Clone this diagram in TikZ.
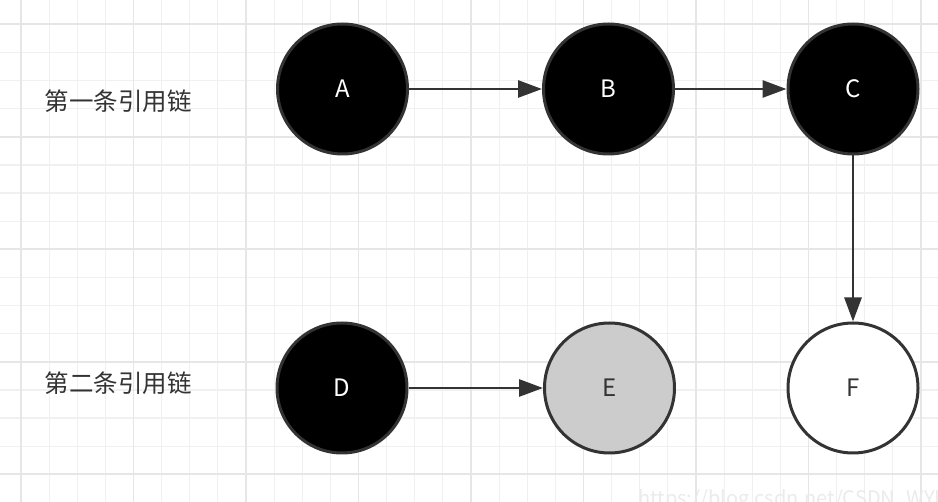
\documentclass[tikz,border=0pt]{standalone}
\usepackage{fontspec}
\setmainfont{Noto Sans CJK SC}
\usetikzlibrary{arrows.meta}
\definecolor{edgec}{HTML}{333333}
\definecolor{minorc}{HTML}{F0F0F0}
\definecolor{majorc}{HTML}{E6E6E6}
\definecolor{efill}{HTML}{CCCCCC}
\definecolor{wmark}{HTML}{EBEBEB}
\tikzset{
  minorline/.style={draw=minorc, line width=1.2pt},
  majorline/.style={draw=majorc, line width=1.8pt},
  ball/.style={circle, minimum size=130pt, inner sep=0pt, draw=edgec, line width=3pt, font=\fontsize{24}{28}\selectfont},
  darkball/.style={ball, fill=black, text=white},
  greyball/.style={ball, fill=efill, text=edgec},
  whiteball/.style={ball, fill=white, text=edgec},
  chainlabel/.style={text=edgec, font=\fontsize{24.5}{28}\selectfont, inner sep=0pt},
  edge/.style={draw=edgec, line width=2.8pt, -{Triangle[length=24pt, width=17pt]}},
}
\begin{document}
\begin{tikzpicture}[x=1pt, y=-1pt]
\fill[white] (0,0) rectangle (938,502);
\useasboundingbox (0,0) rectangle (938,502);
% grid
\foreach \k in {0,...,32} {
  \pgfmathsetmacro\xx{21+28.125*\k}
  \draw[minorline] (\xx,0) -- (\xx,502);
}
\foreach \k in {0,...,16} {
  \pgfmathsetmacro\yy{24.3+28.125*\k}
  \draw[minorline] (0,\yy) -- (938,\yy);
}
\foreach \k in {0,...,8} {
  \pgfmathsetmacro\xx{21+112.5*\k}
  \draw[majorline] (\xx,0) -- (\xx,502);
}
\foreach \k in {0,...,4} {
  \pgfmathsetmacro\yy{24.3+112.5*\k}
  \draw[majorline] (0,\yy) -- (938,\yy);
}
% labels
\node[chainlabel] (l1) at (118.5,101.5) {第一条引用链};
\node[chainlabel] (l2) at (118.5,383) {第二条引用链};
% nodes
\node[darkball] (A) at (342.5,89) {A};
\node[darkball] (B) at (608.5,89) {B};
\node[darkball] (C) at (853,89) {C};
\node[darkball] (D) at (342,388) {D};
\node[greyball] (E) at (609.5,388) {E};
\node[whiteball] (F) at (853,388) {F};
% edges
\draw[edge] (A) -- (B);
\draw[edge] (B) -- (C);
\draw[edge] (C) -- (F);
\draw[edge] (D) -- (E);
% watermark (cut off at the lower edge, as in the reference)
\node[anchor=base west, inner sep=0pt, text=wmark, font=\fontsize{20}{24}\selectfont] (wm) at (638,506) {https://blog.csdn.net/CSDN\_WYL2};
\end{tikzpicture}
\end{document}
